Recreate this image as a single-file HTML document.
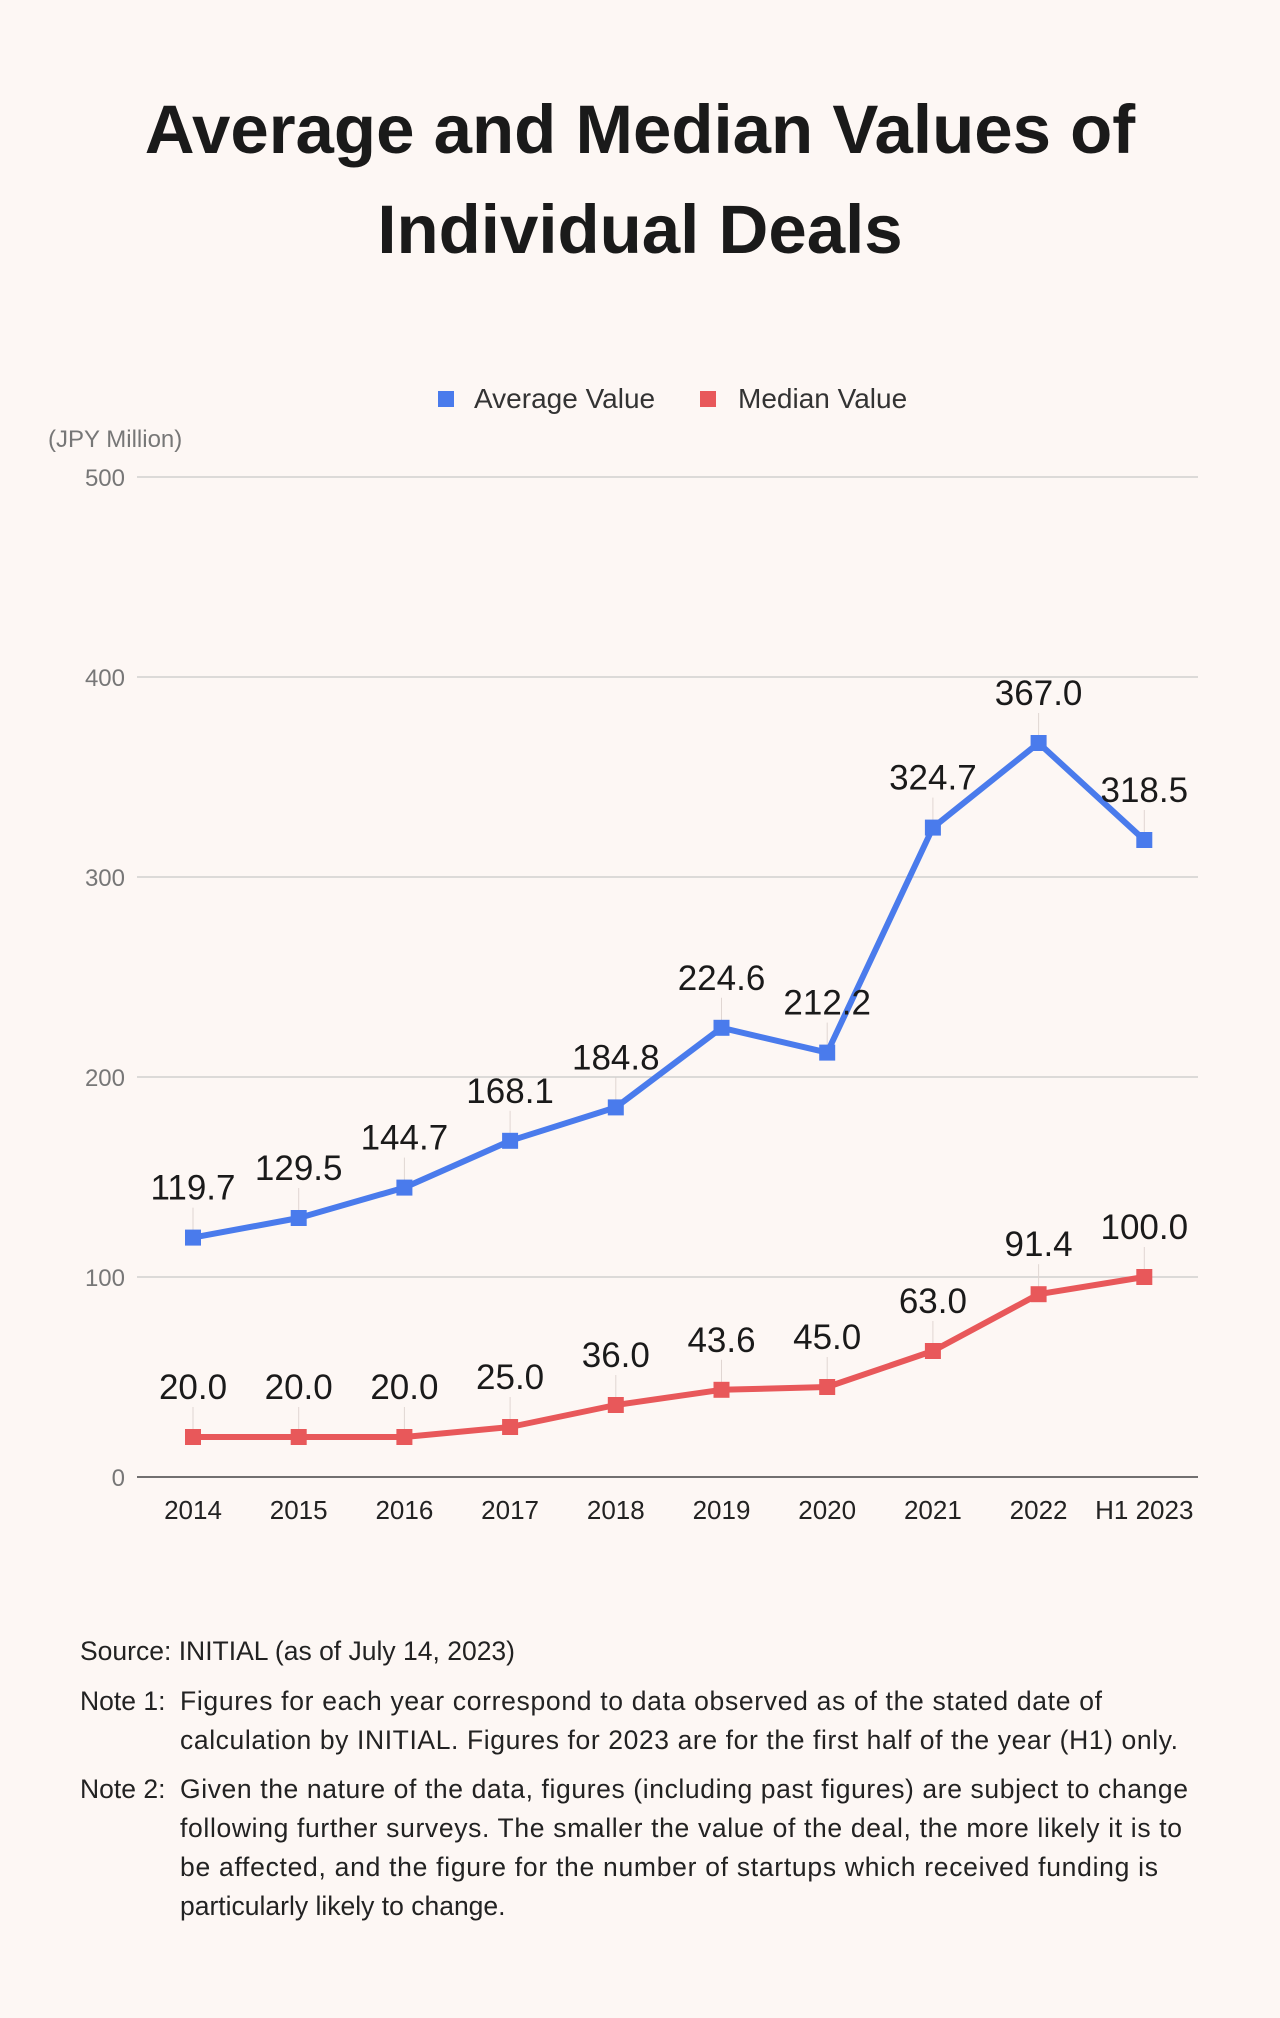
<!DOCTYPE html>
<html><head><meta charset="utf-8">
<style>
body{margin:0;background:#fdf7f4;}
svg{display:block;font-family:"Liberation Sans",Arial,sans-serif;}
</style></head>
<body>
<svg width="1280" height="2018" viewBox="0 0 1280 2018" xmlns="http://www.w3.org/2000/svg">
<rect width="1280" height="2018" fill="#fdf7f4"/>
<text x="640" y="153" text-anchor="middle" font-size="69" font-weight="bold" fill="#1a1a1a">Average and Median Values of</text>
<text x="640" y="253" text-anchor="middle" font-size="69" font-weight="bold" fill="#1a1a1a">Individual Deals</text>
<g>
<rect x="438" y="391" width="16" height="16" fill="#4a7bec"/>
<text x="474" y="408" font-size="28" fill="#333">Average Value</text>
<rect x="700" y="391" width="16" height="16" fill="#e8585a"/>
<text x="738" y="408" font-size="28" fill="#333">Median Value</text>
</g>
<text x="48" y="447" font-size="24" fill="#777">(JPY Million)</text>
<g id="grid"></g>
<g id="marks"></g>
<g font-size="26.5" fill="#222">
<text x="80" y="1660">Source: INITIAL (as of July 14, 2023)</text>
<text x="80" y="1710">Note 1:</text>
<text x="180" y="1710" textLength="922">Figures for each year correspond to data observed as of the stated date of</text>
<text x="180" y="1749" textLength="998">calculation by INITIAL. Figures for 2023 are for the first half of the year (H1) only.</text>
<text x="80" y="1798">Note 2:</text>
<text x="180" y="1798" textLength="1008">Given the nature of the data, figures (including past figures) are subject to change</text>
<text x="180" y="1837" textLength="1002">following further surveys. The smaller the value of the deal, the more likely it is to</text>
<text x="180" y="1876" textLength="978">be affected, and the figure for the number of startups which received funding is</text>
<text x="180" y="1915">particularly likely to change.</text>
</g>
</svg>
<script>
const categories=["2014","2015","2016","2017","2018","2019","2020","2021","2022","H1 2023"];
const averageValues=[119.7,129.5,144.7,168.1,184.8,224.6,212.2,324.7,367.0,318.5];
const medianValues=[20.0,20.0,20.0,25.0,36.0,43.6,45.0,63.0,91.4,100.0];
const yTicks=[0,100,200,300,400,500];
const NS="http://www.w3.org/2000/svg";
const X0=193,XSTEP=105.7,Y0=1477,YSCALE=(1477-477)/500;
function xs(i){return X0+i*XSTEP;}
function ys(v){return Y0-v*YSCALE;}
function mk(tag,attrs,parent){const e=document.createElementNS(NS,tag);for(const k in attrs)e.setAttribute(k,attrs[k]);parent.appendChild(e);return e;}
const grid=document.getElementById('grid'),marks=document.getElementById('marks');
yTicks.forEach(t=>{
  const l=mk('line',{x1:137,x2:1198,y1:ys(t),y2:ys(t),stroke:t===0?'#444':'#c8c8c8','stroke-width':t===0?1.5:1.2},grid);
  
  
  const tx=mk('text',{x:125,y:ys(t)+9,'text-anchor':'end','font-size':24,fill:'#777'},grid);
  tx.textContent=t;
  
  
});
categories.forEach((c,i)=>{
  const tx=mk('text',{x:xs(i),y:1519,'text-anchor':'middle','font-size':26,fill:'#222'},grid);
  tx.textContent=c;
  
  
});
function series(vals,color,name){
  const g=mk('g',{},marks);
  
  
  vals.forEach((v,i)=>{
    const ll=mk('line',{x1:xs(i),x2:xs(i),y1:ys(v)-30,y2:ys(v),stroke:'#e0d6d2','stroke-width':1},g);
    
    
  });
  const p=mk('polyline',{points:vals.map((v,i)=>xs(i)+','+ys(v)).join(' '),fill:'none',stroke:color,'stroke-width':6,'stroke-linejoin':'round'},g);
  
  
  vals.forEach((v,i)=>{
    const r=mk('rect',{x:xs(i)-8,y:ys(v)-8,width:16,height:16,fill:color},g);
    
    
    const t=mk('text',{x:xs(i),y:ys(v)-38,'text-anchor':'middle','font-size':35,fill:'#1a1a1a'},g);
    t.textContent=v.toFixed(1);
    
    
  });
}
series(averageValues,'#4a7bec','average');
series(medianValues,'#e8585a','median');
</script>
</body></html>
